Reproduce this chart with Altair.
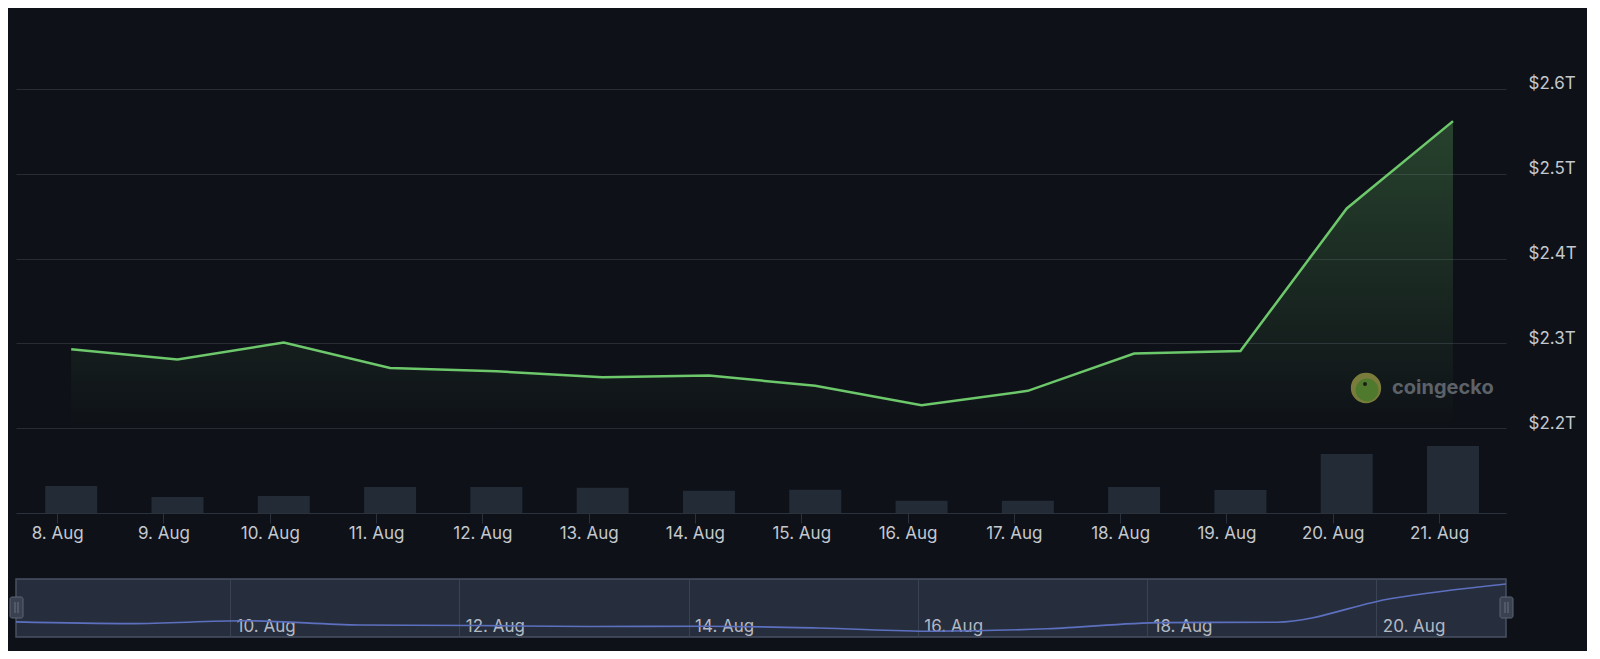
import altair as alt
import pandas as pd

# ---- data ----
days = [8, 9, 10, 11, 12, 13, 14, 15, 16, 17, 18, 19, 20, 21]
price_t = [2.293, 2.281, 2.301, 2.271, 2.267, 2.260, 2.262, 2.250, 2.227, 2.244, 2.288, 2.291, 2.459, 2.562]
volume_b = [81, 48, 51, 78, 78, 76, 67, 70, 37, 37, 78, 69, 177, 201]
y_ticks = [2.2, 2.3, 2.4, 2.5, 2.6]
nav_tick_days = [10, 12, 14, 16, 18, 20]

df = pd.DataFrame({
    "date": [f"2024-08-{d:02d}T03:10:00" for d in days],
    "price": price_t,
    "volume": volume_b,
})

BG = "#0e1117"
LABEL = "#c3c8cf"
GRID = "#272c35"

def dt(d, h=0, m=0):
    return alt.DateTime(year=2024, month=8, date=d, hours=h, minutes=m)

x_main = alt.X(
    "date:T",
    scale=alt.Scale(domain=[dt(7, 15, 50), dt(21, 14, 0)], nice=False),
    axis=alt.Axis(
        values=[dt(d) for d in days], format="%-d. %b", title=None,
        labelFontSize=17, labelColor=LABEL, tickColor="#2c323c", tickSize=10,
        labelPadding=2, domainColor="#2c323c", grid=False,
        labelFlush=False, labelOverlap=False,
    ),
)

price_scale = alt.Scale(domain=[2.1, 2.68], nice=False, zero=False)
y_axis = alt.Axis(
    orient="right", values=y_ticks, title=None,
    labelExpr="'$' + format(datum.value, '.1f') + 'T'",
    ticks=False, domain=False, labelPadding=22, labelFontSize=17,
    labelColor=LABEL, labelOffset=-5, grid=True, gridColor=GRID,
)

base = alt.Chart(df)

area = base.mark_area(
    color=alt.Gradient(
        gradient="linear",
        stops=[alt.GradientStop(color="rgba(108,200,106,0.27)", offset=0),
               alt.GradientStop(color="rgba(108,200,106,0.0)", offset=1)],
        x1=1, x2=1, y1=0, y2=1,
    )
).encode(x=x_main, y=alt.Y("price:Q", scale=price_scale, axis=y_axis), y2=alt.datum(2.2))

line = base.mark_line(color="#6dc86b", strokeWidth=2.5).encode(
    x=x_main, y=alt.Y("price:Q", scale=price_scale, axis=y_axis)
)

price = alt.layer(area, line)

bars = base.mark_bar(color="#232b37", size=52).encode(
    x=x_main, y=alt.Y("volume:Q", scale=alt.Scale(domain=[0, 1476]), axis=None)
)

wm = alt.Chart(pd.DataFrame({"t": ["coingecko"]}))
logo_outer = wm.mark_circle(color="#7a7c3b", opacity=1, size=920).encode(
    x=alt.value(1350), y=alt.value(367))
logo_inner = wm.mark_circle(color="#4f7a2e", opacity=1, size=520).encode(
    x=alt.value(1351), y=alt.value(369))
logo_eye = wm.mark_circle(color="#1a1f1a", opacity=1, size=16).encode(
    x=alt.value(1349), y=alt.value(363))
logo_text = wm.mark_text(
    align="left", baseline="middle", fontSize=20, fontWeight="bold",
    color="#5d6269", font="Inter",
).encode(x=alt.value(1376), y=alt.value(367), text="t:N")

main = alt.layer(bars, price, logo_outer, logo_inner, logo_eye, logo_text).resolve_scale(
    y="independent"
).properties(width=1490, height=492)

# ---- navigator ----
x_nav = alt.X(
    "date:T",
    scale=alt.Scale(domain=[dt(8, 3, 10), dt(21, 3, 10)], nice=False),
    axis=alt.Axis(
        values=[dt(d) for d in nav_tick_days], format="%-d. %b", title=None,
        orient="bottom", grid=True, gridColor="#3a4354", ticks=False, domain=False,
        labelAlign="left", labelBaseline="alphabetic", labelPadding=-6, labelOffset=6,
        labelFontSize=17, labelColor="#b3b9c3", labelFlush=False, labelOverlap=False,
    ),
)
nav_line = base.mark_line(color="#5d70c0", strokeWidth=1.6, interpolate="monotone").encode(
    x=x_nav,
    y=alt.Y("price:Q", scale=alt.Scale(domain=[2.186, 2.597], nice=False, zero=False), axis=None),
)
handle_l = wm.mark_rect(fill="#3a4251", stroke="#5d6575", cornerRadius=2).encode(
    x=alt.value(-6), x2=alt.value(7), y=alt.value(18), y2=alt.value(39))
handle_r = wm.mark_rect(fill="#3a4251", stroke="#5d6575", cornerRadius=2).encode(
    x=alt.value(1484), x2=alt.value(1497), y=alt.value(18), y2=alt.value(39))
grip_l = wm.mark_rule(color="#6a7282", strokeWidth=1).encode(
    x=alt.value(-1), y=alt.value(23), y2=alt.value(34))
grip_l2 = wm.mark_rule(color="#6a7282", strokeWidth=1).encode(
    x=alt.value(2), y=alt.value(23), y2=alt.value(34))
grip_r = wm.mark_rule(color="#6a7282", strokeWidth=1).encode(
    x=alt.value(1489), y=alt.value(23), y2=alt.value(34))
grip_r2 = wm.mark_rule(color="#6a7282", strokeWidth=1).encode(
    x=alt.value(1492), y=alt.value(23), y2=alt.value(34))

nav = alt.layer(nav_line, handle_l, handle_r, grip_l, grip_l2, grip_r, grip_r2).properties(
    width=1490, height=58,
    view=alt.ViewBackground(fill="#262e3d", stroke="#485063", strokeWidth=1.5),
)

chart = alt.vconcat(main, nav, spacing=36).properties(
    background=BG,
    padding={"left": 0, "top": 12, "right": 10, "bottom": 13},
).configure(font="Inter").configure_view(stroke="transparent")

chart.save("out.html", embed_options={"renderer": "svg", "actions": False})
